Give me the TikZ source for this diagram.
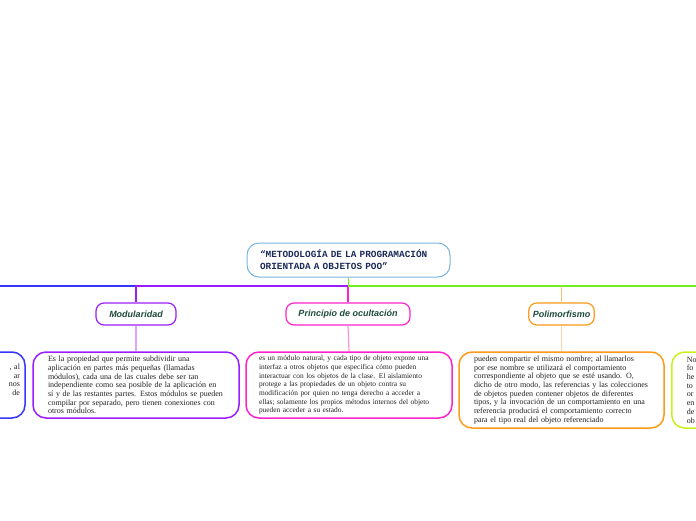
\documentclass[tikz,border=0pt]{standalone}
\usepackage{fontspec}
\setmainfont{Liberation Serif}
\newfontfamily\labelfont{Liberation Sans}
\newfontfamily\titlefont{Liberation Mono}
\definecolor{rootc}{HTML}{7AB4E0}
\definecolor{titlec}{HTML}{1C2B5A}
\definecolor{bluec}{HTML}{3535FF}
\definecolor{purplec}{HTML}{9D1CFF}
\definecolor{lpurplec}{HTML}{DAA6FF}
\definecolor{magc}{HTML}{FF22CC}
\definecolor{lmagc}{HTML}{FF90E4}
\definecolor{orangec}{HTML}{FF9A1A}
\definecolor{lorangec}{HTML}{FFD29E}
\definecolor{greenc}{HTML}{6EF01E}
\definecolor{ygreenc}{HTML}{C8F21A}
\definecolor{labeltc}{HTML}{1F4A3C}
\definecolor{bodyc}{HTML}{222222}
\tikzset{
  topicbox/.style={draw=rootc, line width=1pt, rounded corners=12pt, fill=white,
    minimum width=203pt, minimum height=34pt, align=left, text width=177pt,
    inner xsep=13pt, font=\titlefont\bfseries\fontsize{9.4}{12}\selectfont, text=titlec},
  labelbox/.style={line width=1.2pt, rounded corners=8pt, fill=white,
    minimum height=22pt, inner xsep=4pt,
    font=\labelfont\bfseries\itshape\fontsize{9}{10}\selectfont, text=labeltc},
  textbox/.style={line width=1.5pt, rounded corners=13pt, fill=white,
    minimum height=66pt, inner xsep=15pt, inner ysep=2pt, align=left,
    font=\fontsize{8}{8.7}\selectfont, text=bodyc},
  branch/.style={line width=1.5pt},
  sub/.style={line width=1.2pt}
}
\begin{document}
\begin{tikzpicture}[x=1pt,y=-1pt]
\clip (0,0) rectangle (696,520);
\fill[white] (0,0) rectangle (696,520);

% nodes
\node[topicbox] (root) at (348.5,260) {“METODOLOGÍA DE LA PROGRAMACIÓN\\ORIENTADA A OBJETOS POO”};
\coordinate (hub) at (348,286);
\coordinate (leftend) at (-10,286);
\coordinate (rightend) at (706,286);

\node[labelbox, draw=purplec, minimum width=80pt] (modl) at (136,314) {Modularidad};
\node[labelbox, draw=magc, minimum width=124pt] (ocul) at (348,314) {Principio de ocultación};
\node[labelbox, draw=orangec, minimum width=65pt] (poli) at (561.5,314) {Polimorfismo};

\node[textbox, draw=bluec, text width=196pt, inner xsep=5pt, align=right, minimum width=206pt] (bbox) at (-78,385)
 {\strut\\, al\\ar\\nos\\de\\\strut\\\strut};
\node[textbox, draw=purplec, text width=176pt, minimum width=206pt] (mbox) at (136,385)
 {Es la propiedad que permite subdividir una\\
  aplicación en partes más pequeñas (llamadas\\
  módulos), cada una de las cuales debe ser tan\\
  independiente como sea posible de la aplicación en\\
  sí y de las restantes partes. Estos módulos se pueden\\
  compilar por separado, pero tienen conexiones con\\
  otros módulos.};
\node[textbox, draw=magc, text width=180pt, inner xsep=13pt, minimum width=206pt,
      font=\fontsize{7.4}{8.7}\selectfont] (obox) at (349,385)
 {es un módulo natural, y cada tipo de objeto expone una\\
  interfaz a otros objetos que especifica cómo pueden\\
  interactuar con los objetos de la clase. El aislamiento\\
  protege a las propiedades de un objeto contra su\\
  modificación por quien no tenga derecho a acceder a\\
  ellas; solamente los propios métodos internos del objeto\\
  pueden acceder a su estado.};
\node[textbox, draw=orangec, text width=175pt, minimum width=205pt, minimum height=76pt] (pbox) at (561.5,390)
 {pueden compartir el mismo nombre; al llamarlos\\
  por ese nombre se utilizará el comportamiento\\
  correspondiente al objeto que se esté usando. O,\\
  dicho de otro modo, las referencias y las colecciones\\
  de objetos pueden contener objetos de diferentes\\
  tipos, y la invocación de un comportamiento en una\\
  referencia producirá el comportamiento correcto\\
  para el tipo real del objeto referenciado};
\node[textbox, draw=ygreenc, text width=176pt, minimum width=206pt, minimum height=76pt, anchor=west] (gbox) at (671,390)
 {No\\fo\\he\\to\\or\\en\\de\\ob};

% connectors
\draw[branch, bluec] (hub) -- (leftend);
\draw[branch, purplec] (hub) -| (modl.north);
\draw[branch, magc] (hub) -- (ocul.north);
\draw[branch, greenc] (root.south) |- (rightend);
\draw[branch, orangec!60] (poli.north |- hub) -- (poli.north);
\draw[sub, lpurplec] (modl.south) -- (mbox.north);
\draw[sub, lmagc] (ocul.south) -- (obox.north);
\draw[sub, lorangec] (poli.south) -- (pbox.north);
\end{tikzpicture}
\end{document}
